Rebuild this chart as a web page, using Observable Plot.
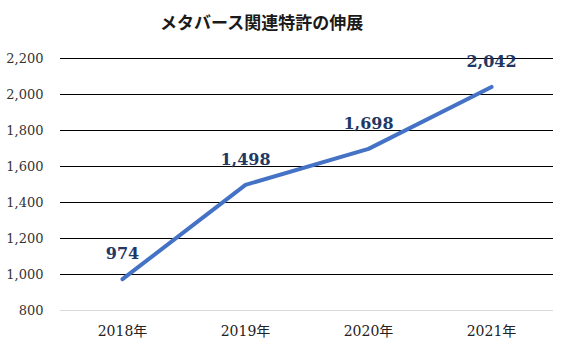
<!DOCTYPE html>
<html>
<head>
<meta charset="utf-8">
<script src="https://cdn.jsdelivr.net/npm/d3@7"></script>
<script src="https://cdn.jsdelivr.net/npm/@observablehq/plot@0.6"></script>
<style>
  body { margin: 0; background: #fff; }
  #title { height: 44px; box-sizing: border-box; padding-top: 11px; padding-left: 160px; line-height: 22px; text-align: left; font-family: "Noto Sans CJK JP", serif; font-size: 17px; font-weight: bold; color: #1a1a1a; white-space: nowrap; }
</style>
</head>
<body>
<div id="title">メタバース関連特許の伸展</div>
<div id="chart"></div>
<script>
const years = ["2018年", "2019年", "2020年", "2021年"];
const patents = [974, 1498, 1698, 2042];
const yTicks = [800, 1000, 1200, 1400, 1600, 1800, 2000, 2200];

const data = years.map((y, i) => ({year: y, value: patents[i]}));
const fmt = d3.format(",");

const plot = Plot.plot({
  width: 567,
  height: 309,
  marginLeft: 60,
  marginRight: 14,
  marginTop: 14,
  marginBottom: 43,
  style: {fontFamily: "'DejaVu Serif', 'Noto Sans CJK JP', serif", background: "#fff"},
  x: {type: "point", domain: years, padding: 0.5, label: null},
  y: {domain: [800, 2200], label: null},
  marks: [
    Plot.ruleY(yTicks, {stroke: d => d === 800 ? "#d9d9d9" : "#000", strokeWidth: 1}),
    Plot.axisY({ticks: yTicks, tickSize: 0, tickPadding: 17, tickFormat: fmt, fontSize: 13, fill: "#333", label: null}),
    Plot.axisX({tickSize: 0, tickPadding: 16, fontSize: 14, fill: "#222", label: null}),
    Plot.line(data, {x: "year", y: "value", stroke: "#4472C4", strokeWidth: 4}),
    Plot.text(data, {x: "year", y: "value", text: d => fmt(d.value), dy: -25, fontSize: 16, fontWeight: "bold", fill: "#1F3864"})
  ]
});
document.getElementById("chart").appendChild(plot);
</script>
</body>
</html>
